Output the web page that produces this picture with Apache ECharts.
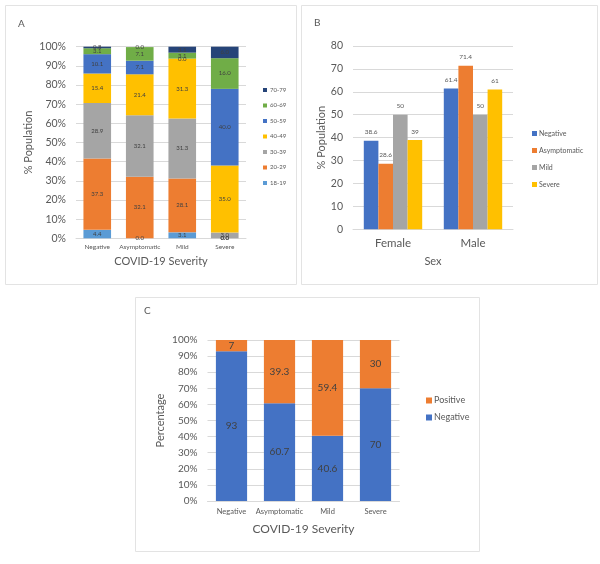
<!DOCTYPE html>
<html>
<head>
<meta charset="utf-8">
<title>COVID-19 severity</title>
<script src="https://cdn.jsdelivr.net/npm/echarts@6/dist/echarts.min.js"></script>
<style>
  html, body { margin: 0; padding: 0; background: #FFFFFF; }
  #chart { width: 600px; height: 564px; }
</style>
</head>
<body>
<div id="chart"></div>
<script>
// panel A: age groups by severity (stacked, % population)
const severityCategories = ['Negative', 'Asymptomatic', 'Mild', 'Severe']
const ageGroups = ['18-19', '20-29', '30-39', '40-49', '50-59', '60-69', '70-79']
const age18to19 = [4.4, 0.0, 3.1, 0.0]
const age20to29 = [37.3, 32.1, 28.1, 0.0]
const age30to39 = [28.9, 32.1, 31.3, 3.0]
const age40to49 = [15.4, 21.4, 31.3, 35.0]
const age50to59 = [10.1, 7.1, 0.0, 40.0]
const age60to69 = [3.1, 7.1, 3.1, 16.0]
const age70to79 = [0.8, 0.0, 3.1, 6.0]
const ageColors = ['#5B9BD5', '#ED7D31', '#A5A5A5', '#FFC000', '#4472C4', '#70AD47', '#264478']

// panel B: sex by severity (% population)
const sexCategories = ['Female', 'Male']
const sexNegative = [38.6, 61.4]
const sexAsymptomatic = [28.6, 71.4]
const sexMild = [50, 50]
const sexSevere = [39, 61]
const sexColors = ['#4472C4', '#ED7D31', '#A5A5A5', '#FFC000']

// panel C: test result by severity (stacked, percentage)
const resultNegative = [93, 60.7, 40.6, 70]
const resultPositive = [7, 39.3, 59.4, 30]

const percentTicks = { min: 0, max: 100, interval: 10 }
const sexTicks = { min: 0, max: 80, interval: 10 }

const FONT = 'Lato, "Open Sans", sans-serif'
const TEXT = '#595959'
const LABEL = '#404040'
const GRID_LINE = '#D9D9D9'

const chart = echarts.init(document.getElementById('chart'))

function categoryAxis(gridIndex, data, fontSize, margin, name, nameGap, nameSize) {
  return {
    type: 'category',
    gridIndex,
    data,
    axisLine: { lineStyle: { color: GRID_LINE } },
    axisTick: { show: false },
    axisLabel: { color: TEXT, fontSize, margin, interval: 0, hideOverlap: false, fontFamily: FONT },
    name,
    nameLocation: 'middle',
    nameGap,
    nameTextStyle: { color: TEXT, fontSize: nameSize, fontFamily: FONT }
  }
}

function valueAxis(gridIndex, ticks, suffix, fontSize, name, nameGap) {
  return {
    type: 'value',
    gridIndex,
    min: ticks.min,
    max: ticks.max,
    interval: ticks.interval,
    axisLine: { show: false },
    axisTick: { show: false },
    splitLine: { lineStyle: { color: GRID_LINE } },
    axisLabel: { color: TEXT, fontSize, margin: 10, fontFamily: FONT, formatter: '{value}' + suffix },
    name,
    nameLocation: 'middle',
    nameGap,
    nameRotate: 90,
    nameTextStyle: { color: TEXT, fontSize: 11, fontFamily: FONT }
  }
}

function ageSeries() {
  const values = [age18to19, age20to29, age30to39, age40to49, age50to59, age60to69, age70to79]
  return ageGroups.map((group, i) => ({
    name: group,
    type: 'bar',
    stack: 'age',
    xAxisIndex: 0,
    yAxisIndex: 0,
    barWidth: '65%',
    itemStyle: { color: ageColors[i] },
    label: {
      show: true,
      position: 'inside',
      color: LABEL,
      fontSize: 6,
      fontFamily: FONT,
      formatter: (p) => Number(p.value).toFixed(1)
    },
    data: values[i]
  }))
}

function sexSeries() {
  const values = [sexNegative, sexAsymptomatic, sexMild, sexSevere]
  return severityCategories.map((name, i) => ({
    name,
    type: 'bar',
    xAxisIndex: 1,
    yAxisIndex: 1,
    barGap: '0%',
    barCategoryGap: '27%',
    itemStyle: { color: sexColors[i] },
    label: { show: true, position: 'top', distance: 5, color: TEXT, fontSize: 6.5, fontFamily: FONT },
    data: values[i]
  }))
}

function resultSeries() {
  const label = { show: true, position: 'inside', color: LABEL, fontSize: 10, fontFamily: FONT }
  return [
    { name: 'Negative', type: 'bar', stack: 'result', xAxisIndex: 2, yAxisIndex: 2, barWidth: '65%', itemStyle: { color: '#4472C4' }, label, data: resultNegative },
    { name: 'Positive', type: 'bar', stack: 'result', xAxisIndex: 2, yAxisIndex: 2, barWidth: '65%', itemStyle: { color: '#ED7D31' }, label, data: resultPositive }
  ]
}

function panelFrame(x1, y1, x2, y2) {
  return {
    type: 'rect',
    silent: true,
    z: -10,
    shape: { x: x1 + 0.5, y: y1 + 0.5, width: x2 - x1, height: y2 - y1 },
    style: { fill: '#FFFFFF', stroke: '#E3E3E3', lineWidth: 1 }
  }
}

const legendBase = { orient: 'vertical', icon: 'rect', selectedMode: false, padding: 0 }

chart.setOption({
  animation: false,
  textStyle: { fontFamily: FONT },
  graphic: [
    panelFrame(5, 5, 296, 284),
    panelFrame(301, 5, 597, 284),
    panelFrame(135, 297, 479, 551)
  ],
  title: [
    { text: 'A', left: 13, top: 14, textStyle: { color: TEXT, fontSize: 10, fontWeight: 'normal', fontFamily: FONT } },
    { text: 'B', left: 309, top: 13, textStyle: { color: TEXT, fontSize: 10, fontWeight: 'normal', fontFamily: FONT } },
    { text: 'C', left: 139, top: 301, textStyle: { color: TEXT, fontSize: 10, fontWeight: 'normal', fontFamily: FONT } }
  ],
  legend: [
    {
      ...legendBase,
      data: ageGroups.slice().reverse(),
      left: 263,
      top: 86,
      itemWidth: 4,
      itemHeight: 4,
      itemGap: 7.5,
      textStyle: { color: TEXT, fontSize: 6, lineHeight: 8, padding: [0, 0, 0, -2] }
    },
    {
      ...legendBase,
      data: severityCategories,
      left: 532,
      top: 129,
      itemWidth: 5,
      itemHeight: 5,
      itemGap: 8,
      textStyle: { color: TEXT, fontSize: 7, lineHeight: 9, padding: [0, 0, 0, -3] }
    },
    {
      ...legendBase,
      data: ['Positive', 'Negative'],
      left: 426,
      top: 395,
      itemWidth: 6,
      itemHeight: 6,
      itemGap: 6,
      textStyle: { color: TEXT, fontSize: 9, lineHeight: 11, padding: [0, 0, 0, -3] }
    }
  ],
  grid: [
    { left: 76, top: 46.7, width: 170, height: 191.6 },
    { left: 353, top: 46, width: 160, height: 183.3 },
    { left: 207.5, top: 340, width: 192, height: 161 }
  ],
  xAxis: [
    categoryAxis(0, severityCategories, 6.5, 5, 'COVID-19 Severity', 18, 11),
    categoryAxis(1, sexCategories, 11.5, 8, 'Sex', 27, 11),
    categoryAxis(2, severityCategories, 7.5, 7, 'COVID-19 Severity', 22, 12)
  ],
  yAxis: [
    valueAxis(0, percentTicks, '%', 10.5, '% Population', 42),
    valueAxis(1, sexTicks, '', 10.5, '% Population', 26),
    valueAxis(2, percentTicks, '%', 10, 'Percentage', 42)
  ],
  series: [...ageSeries(), ...sexSeries(), ...resultSeries()]
})
</script>
</body>
</html>
